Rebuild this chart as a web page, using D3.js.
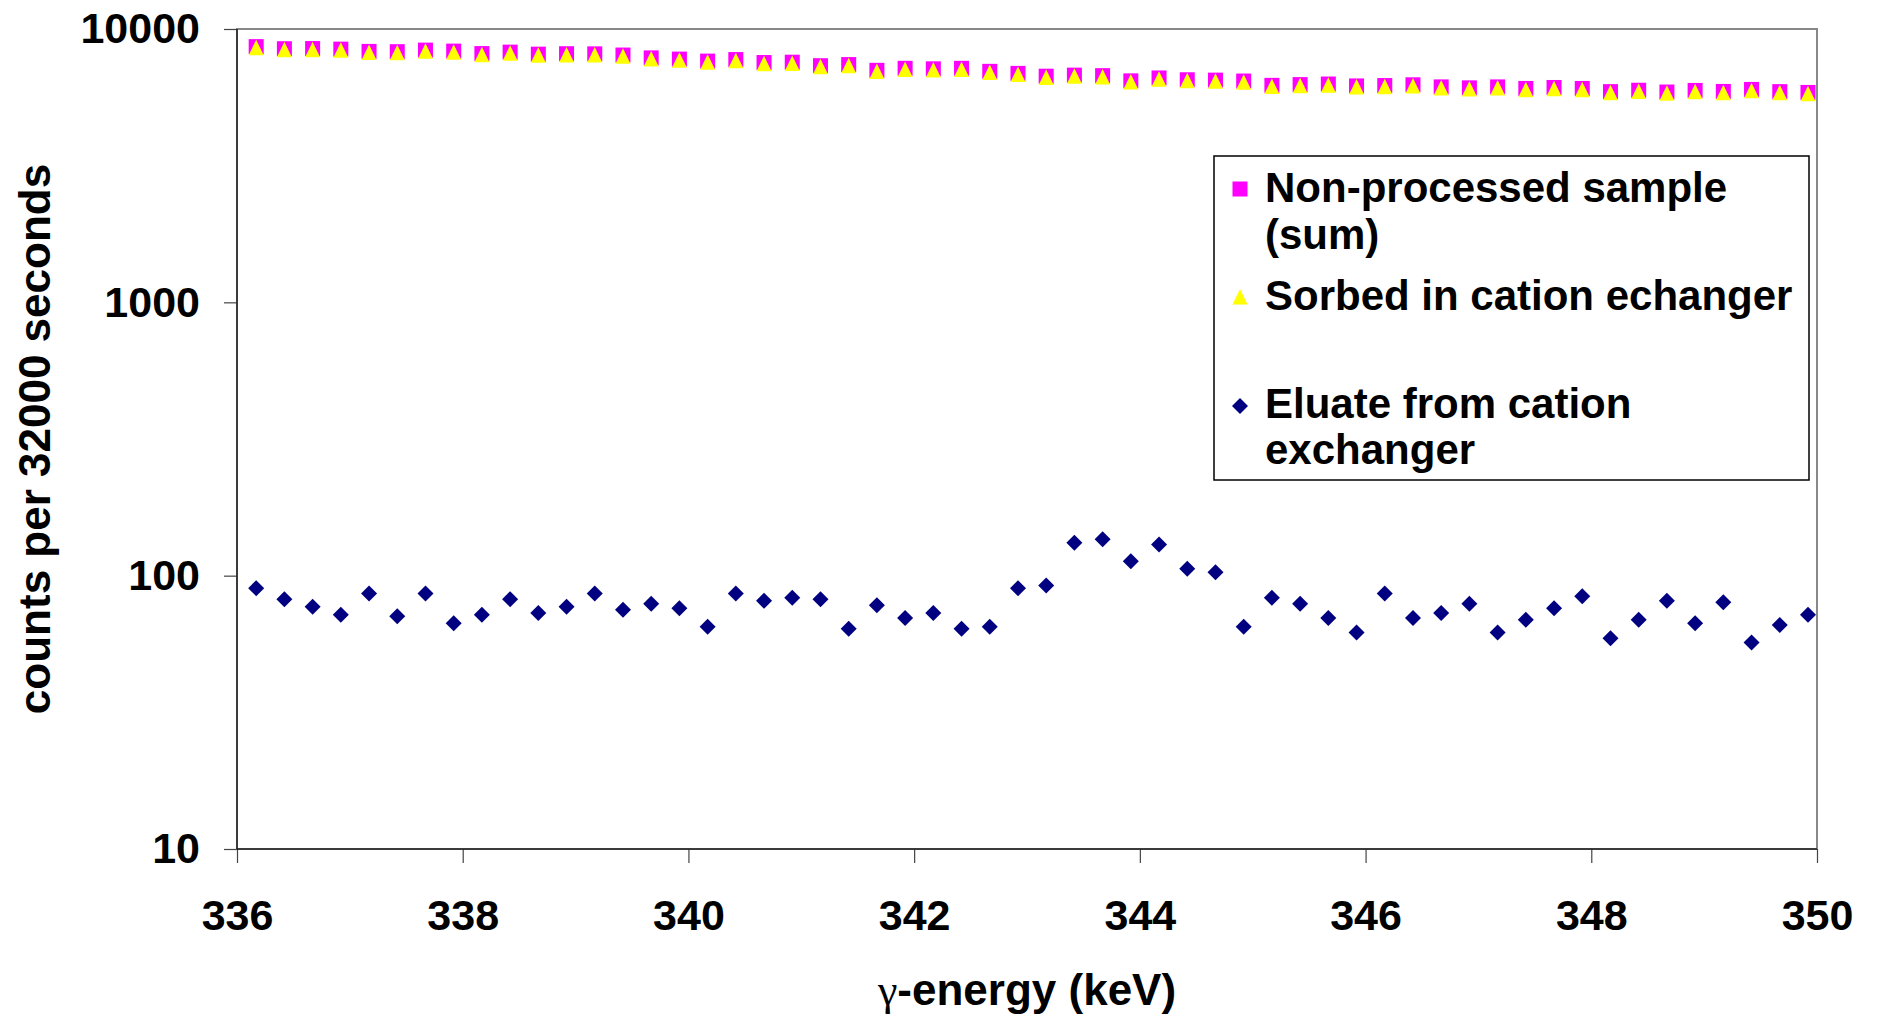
<!DOCTYPE html>
<html>
<head>
<meta charset="utf-8">
<script src="https://cdn.jsdelivr.net/npm/d3@7"></script>
<style>
  body { margin: 0; background: #fff; }
  svg { display: block; font-family: "Liberation Sans", Arial, sans-serif; font-weight: bold; }
</style>
</head>
<body>
<script>
// gamma spectrum, 336-350 keV, counts per 32000 s
const energy = [336.17, 336.42, 336.67, 336.92, 337.17, 337.42, 337.67, 337.92, 338.17, 338.42,
  338.67, 338.92, 339.17, 339.42, 339.67, 339.92, 340.17, 340.42, 340.67, 340.92,
  341.17, 341.42, 341.67, 341.92, 342.17, 342.42, 342.67, 342.92, 343.17, 343.42,
  343.67, 343.92, 344.17, 344.42, 344.67, 344.92, 345.17, 345.42, 345.67, 345.92,
  346.17, 346.42, 346.67, 346.92, 347.17, 347.42, 347.67, 347.92, 348.17, 348.42,
  348.67, 348.92, 349.17, 349.42, 349.67, 349.92];

const nonProcessed = [8620, 8470, 8480, 8440, 8280, 8260, 8370, 8300, 8130, 8230,
  8090, 8120, 8110, 8030, 7840, 7760, 7630, 7730, 7540, 7560,
  7340, 7410, 7060, 7180, 7150, 7180, 7000, 6880, 6720, 6780,
  6750, 6460, 6620, 6520, 6500, 6450, 6220, 6260, 6290, 6190,
  6210, 6250, 6140, 6090, 6140, 6060, 6110, 6060, 5900, 5970,
  5880, 5960, 5910, 6010, 5900, 5860];

const sorbed = [8540, 8390, 8400, 8360, 8200, 8180, 8290, 8220, 8050, 8150,
  8010, 8040, 8030, 7950, 7760, 7680, 7550, 7650, 7460, 7480,
  7270, 7340, 6990, 7110, 7080, 7110, 6930, 6810, 6650, 6710,
  6680, 6400, 6550, 6460, 6440, 6380, 6160, 6200, 6230, 6130,
  6150, 6190, 6080, 6030, 6080, 6000, 6050, 6000, 5840, 5910,
  5820, 5900, 5850, 5950, 5840, 5800];

const eluate = [90, 82, 77, 72, 86, 71, 86, 67, 72, 82,
  73, 77, 86, 75, 79, 76, 65, 86, 81, 83,
  82, 64, 78, 70, 73, 64, 65, 90, 92, 132,
  136, 113, 130, 106, 103, 65, 83, 79, 70, 62,
  86, 70, 73, 79, 62, 69, 76, 84, 59, 69,
  81, 67, 80, 57, 66, 72];

const xTicks = [336, 338, 340, 342, 344, 346, 348, 350];
const yTicks = [10, 100, 1000, 10000];

const width = 1877, height = 1019;
const margin = {top: 29, right: 60, bottom: 170, left: 237};

const x = d3.scaleLinear()
  .domain([336, 350])
  .range([margin.left, width - margin.right]);

const y = d3.scaleLog()
  .domain([10, 10000])
  .range([height - margin.bottom, margin.top]);

const svg = d3.select("body").append("svg")
  .attr("width", width)
  .attr("height", height);

svg.append("rect").attr("width", width).attr("height", height).attr("fill", "#fff");

// plot area border
svg.append("rect")
  .attr("x", x(336)).attr("y", y(10000))
  .attr("width", x(350) - x(336)).attr("height", y(10) - y(10000))
  .attr("fill", "none").attr("stroke", "#888").attr("stroke-width", 2);

const yAxis = svg.append("g")
  .attr("transform", `translate(${margin.left},0)`)
  .call(d3.axisLeft(y).tickValues(yTicks).tickFormat(d3.format("d")).tickSize(13).tickPadding(24));

const xAxis = svg.append("g")
  .attr("transform", `translate(0,${height - margin.bottom})`)
  .call(d3.axisBottom(x).tickValues(xTicks).tickFormat(d3.format("d")).tickSize(14).tickPadding(36));

[yAxis, xAxis].forEach(g => {
  g.select(".domain").remove();
  g.selectAll(".tick line").attr("stroke", "#444").attr("stroke-width", 1.2);
  g.selectAll(".tick text").attr("fill", "#000").attr("font-size", 43)
    .attr("font-family", "'Liberation Sans', Arial, sans-serif").attr("font-weight", "bold");
});

// axis lines
svg.append("line")
  .attr("x1", x(336)).attr("x2", x(336)).attr("y1", y(10000)).attr("y2", y(10))
  .attr("stroke", "#222").attr("stroke-width", 1.5);
svg.append("line")
  .attr("x1", x(336)).attr("x2", x(350)).attr("y1", y(10)).attr("y2", y(10))
  .attr("stroke", "#222").attr("stroke-width", 1.5);

// series
const sq = 15;
svg.append("g").selectAll("rect")
  .data(energy)
  .join("rect")
  .attr("x", (d) => x(d) - sq / 2)
  .attr("y", (d, i) => y(nonProcessed[i]) - sq / 2)
  .attr("width", sq).attr("height", sq)
  .attr("fill", "#ff00ff");

const tri = (cx, cy) => `M${cx},${cy - 8}L${cx + 7.5},${cy + 7.5}L${cx - 7.5},${cy + 7.5}Z`;
svg.append("g").selectAll("path")
  .data(energy)
  .join("path")
  .attr("d", (d, i) => tri(x(d), y(sorbed[i])))
  .attr("fill", "#ffff00");

const dia = (cx, cy) => `M${cx},${cy - 8}L${cx + 8},${cy}L${cx},${cy + 8}L${cx - 8},${cy}Z`;
svg.append("g").selectAll("path")
  .data(energy)
  .join("path")
  .attr("d", (d, i) => dia(x(d), y(eluate[i])))
  .attr("fill", "#000080");

// axis titles
svg.append("text")
  .attr("transform", `translate(50,${(y(10) + y(10000)) / 2}) rotate(-90)`)
  .attr("text-anchor", "middle")
  .attr("font-size", 44)
  .text("counts per 32000 seconds");

const xTitle = svg.append("text")
  .attr("x", (x(336) + x(350)) / 2)
  .attr("y", 1005)
  .attr("text-anchor", "middle")
  .attr("font-size", 44);
xTitle.append("tspan")
  .attr("font-family", "'Liberation Serif', 'DejaVu Serif', serif")
  .attr("font-weight", "normal")
  .text("γ");
xTitle.append("tspan").text("-energy (keV)");

// legend
const legend = svg.append("g");
legend.append("rect")
  .attr("x", 1214).attr("y", 156).attr("width", 595).attr("height", 324)
  .attr("fill", "#fff").attr("stroke", "#000").attr("stroke-width", 1.5);

legend.append("rect").attr("x", 1240 - sq / 2).attr("y", 189 - sq / 2)
  .attr("width", sq).attr("height", sq).attr("fill", "#ff00ff");
legend.append("path").attr("d", tri(1240, 297)).attr("fill", "#ffff00");
legend.append("path").attr("d", dia(1240, 406)).attr("fill", "#000080");

const legendLines = [
  ["Non-processed sample", 202],
  ["(sum)", 249],
  ["Sorbed in cation echanger", 310],
  ["Eluate from cation", 418],
  ["exchanger", 464]
];
legend.selectAll("text.lg")
  .data(legendLines)
  .join("text")
  .attr("class", "lg")
  .attr("x", 1265)
  .attr("y", d => d[1])
  .attr("font-size", 42)
  .text(d => d[0]);
</script>
</body>
</html>
